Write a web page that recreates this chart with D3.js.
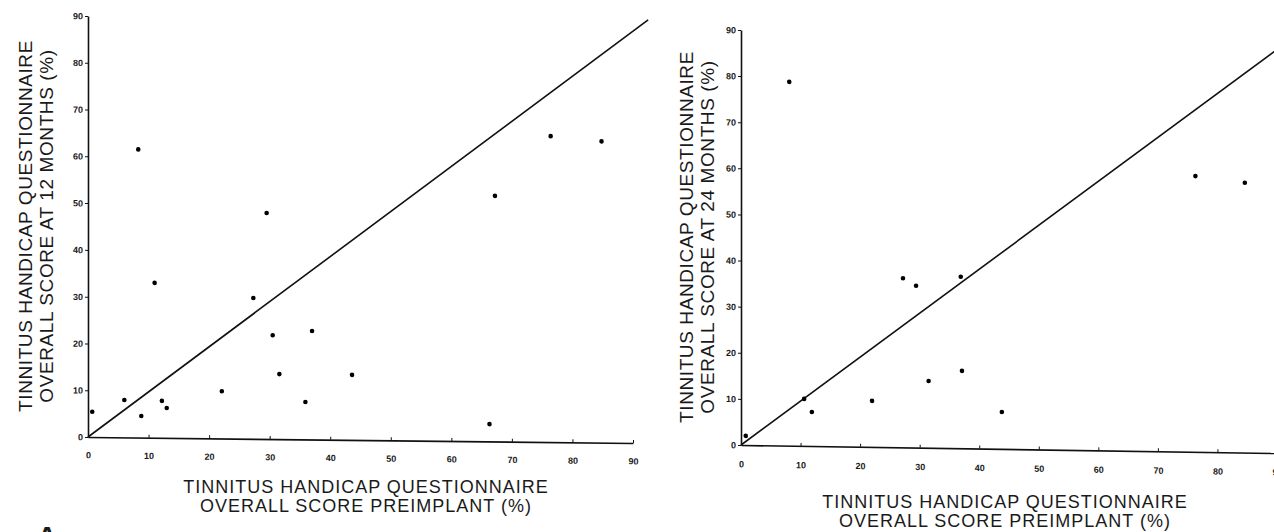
<!DOCTYPE html>
<html>
<head>
<meta charset="utf-8">
<script src="https://cdn.jsdelivr.net/npm/d3@7"></script>
<style>
  body { margin: 0; background: #fff; }
  svg { display: block; }
  .tick text { font-family: "Liberation Sans", Arial, sans-serif; font-size: 9px; font-weight: bold; fill: #1a1a1a; }
  .title { font-family: "Liberation Sans", Arial, sans-serif; fill: #1a1a1a; }
</style>
</head>
<body>
<svg id="chart" width="1274" height="532"></svg>
<script>
// tick values shared by both panels
const xTicks = [0, 10, 20, 30, 40, 50, 60, 70, 80, 90];
const yTicks = [0, 10, 20, 30, 40, 50, 60, 70, 80, 90];

// panel A: preimplant vs 12 months
const preimplant12 = [8.3, 29.5, 11, 27.3, 0.7, 6, 8.8, 12.2, 13, 22.1, 30.5, 31.6, 37, 35.9, 43.6, 66.3, 67.2, 76.4, 84.8];
const score12 = [61.6, 48.3, 33.1, 30.1, 5.4, 8, 4.6, 7.9, 6.4, 10.1, 22.2, 13.9, 23.2, 8, 13.9, 3.7, 52.5, 65.4, 64.4];
const refLine12X = [0, 92.5];
const refLine12Y = [0, 90.5];

// panel B: preimplant vs 24 months
const preimplant24 = [0.8, 10.6, 11.9, 22, 27.2, 29.4, 36.9, 31.5, 37.1, 43.8, 8.1, 76.3, 84.6];
const score24 = [2, 10.2, 7.4, 10, 36.7, 35.1, 37.2, 14.5, 16.8, 8, 78.9, 59.8, 58.5];
const refLine24X = [0, 90];
const refLine24Y = [0, 87.5];

const xTitle = ['TINNITUS HANDICAP QUESTIONNAIRE', 'OVERALL SCORE PREIMPLANT (%)'];
const yTitle12 = ['TINNITUS HANDICAP QUESTIONNAIRE', 'OVERALL SCORE AT 12 MONTHS (%)'];
const yTitle24 = ['TINNITUS HANDICAP QUESTIONNAIRE', 'OVERALL SCORE AT 24 MONTHS (%)'];

const svg = d3.select('#chart');

const drawPanel = (cfg) => {
  const x = d3.scaleLinear().domain([0, 90]).range(cfg.xRange);
  const y = d3.scaleLinear().domain([0, 90]).range(cfg.yRange);
  const ox = cfg.xRange[0], oy = cfg.yRange[0];

  // the scanned panels are slightly skewed, so mimic that
  const g = svg.append('g')
    .attr('transform', `translate(${ox},${oy}) skewY(${cfg.skew}) translate(${-ox},${-oy})`);

  const yAxis = d3.axisLeft(y).tickValues(yTicks).tickSize(3).tickSizeOuter(0).tickPadding(2);
  const gy = g.append('g').attr('transform', `translate(${ox},0)`).call(yAxis);

  const xAxis = d3.axisBottom(x).tickValues(xTicks).tickSize(-3).tickSizeOuter(0).tickPadding(0);
  const gx = g.append('g').attr('transform', `translate(0,${oy})`).call(xAxis);
  gx.selectAll('.tick text').attr('y', cfg.xLabelOffset).attr('dy', '0.71em');

  [gx, gy].forEach(a => {
    a.select('.domain').attr('stroke', '#111').attr('stroke-width', 1.6);
    a.selectAll('.tick line').attr('stroke', '#111');
  });

  // reference line
  const refData = cfg.refX.map((v, i) => [v, cfg.refY[i]]);
  g.append('path')
    .datum(refData)
    .attr('fill', 'none')
    .attr('stroke', '#111')
    .attr('stroke-width', 1.6)
    .attr('d', d3.line().x(d => x(d[0])).y(d => y(d[1])));

  // points
  const pts = cfg.px.map((v, i) => ({ pre: v, post: cfg.py[i] }));
  g.selectAll('.dot')
    .data(pts)
    .enter()
    .append('circle')
    .attr('class', 'dot')
    .attr('cx', d => x(d.pre))
    .attr('cy', d => y(d.post))
    .attr('r', 2.3)
    .attr('fill', '#000');

  // x title
  cfg.xTitle.forEach((t, i) => {
    svg.append('text')
      .attr('class', 'title')
      .attr('x', cfg.xTitlePos[0])
      .attr('y', cfg.xTitlePos[1] + i * 19)
      .attr('text-anchor', 'middle')
      .attr('font-size', 18)
      .attr('letter-spacing', 1)
      .text(t);
  });

  // y title (rotated)
  cfg.yTitle.forEach((t, i) => {
    svg.append('text')
      .attr('class', 'title')
      .attr('transform', `translate(${cfg.yTitlePos[0] + i * 21},${cfg.yTitlePos[1]}) rotate(-90)`)
      .attr('text-anchor', 'middle')
      .attr('font-size', 19)
      .attr('letter-spacing', 0.6)
      .text(t);
  });
};

drawPanel({
  xRange: [88, 633], yRange: [437, 16], skew: 0.63, xLabelOffset: 15,
  px: preimplant12, py: score12, refX: refLine12X, refY: refLine12Y,
  xTitle: xTitle, yTitle: yTitle12,
  xTitlePos: [366, 493], yTitlePos: [32, 226]
});

drawPanel({
  xRange: [741, 1277], yRange: [445, 30], skew: 0.86, xLabelOffset: 16,
  px: preimplant24, py: score24, refX: refLine24X, refY: refLine24Y,
  xTitle: xTitle, yTitle: yTitle24,
  xTitlePos: [1005, 508], yTitlePos: [693, 237]
});

// panel letter, cut off by the page edge as in the scan
svg.append('text')
  .attr('class', 'title')
  .attr('x', 47)
  .attr('y', 546)
  .attr('text-anchor', 'middle')
  .attr('font-size', 28)
  .attr('font-weight', 'bold')
  .text('A');
</script>
</body>
</html>
